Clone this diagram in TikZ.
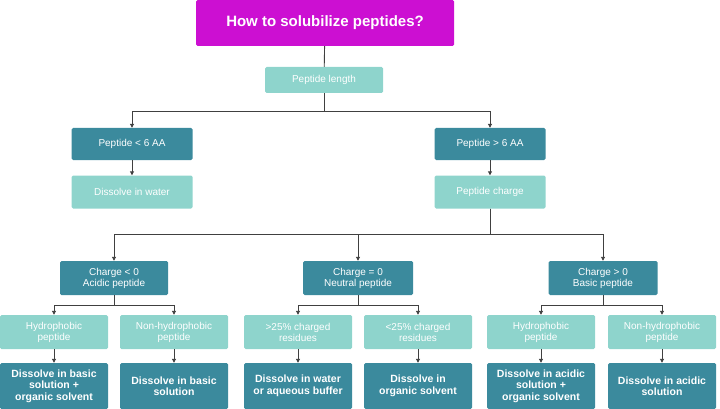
\documentclass[tikz,border=0pt]{standalone}
\usepackage{fontspec}
\setmainfont{Liberation Sans}
\usetikzlibrary{arrows.meta}
\definecolor{mag}{HTML}{CC0FD2}
\definecolor{lt}{HTML}{8ED4CC}
\definecolor{dk}{HTML}{3B8A9D}
\begin{document}
\begin{tikzpicture}[x=1pt,y=-1pt,
 box/.style={rounded corners=1.5pt,align=center,text=white,inner sep=0pt},
 light/.style={box,fill=lt,font=\fontsize{10}{11}\selectfont},
 dark/.style={box,fill=dk,font=\fontsize{10}{11}\selectfont},
 res/.style={box,fill=dk,font=\bfseries\fontsize{10.5}{11.5}\selectfont},
 ln/.style={draw=black!75,line width=0.9pt},
 ar/.style={ln,-{Triangle[length=4pt,width=4pt]}}]
\useasboundingbox (0,0) rectangle (720,409);
\node[box,fill=mag,font=\bfseries\fontsize{15}{17}\selectfont,minimum width=258pt,minimum height=46pt] (t) at (325,23) {How to solubilize peptides?};
\node[light,minimum width=118pt,minimum height=26pt] (len) at (324,80) {Peptide length};
\node[dark,minimum width=121pt,minimum height=32pt] (s6) at (132,144) {Peptide < 6 AA};
\node[light,minimum width=121pt,minimum height=33pt] (w) at (132,192) {Dissolve in water};
\node[dark,minimum width=111pt,minimum height=32pt] (g6) at (490,144) {Peptide > 6 AA};
\node[light,minimum width=111pt,minimum height=33pt] (pc) at (490,192) {Peptide charge};
\node[dark,minimum width=108pt,minimum height=34pt] (c1) at (114,278) {Charge < 0\\Acidic peptide};
\node[dark,minimum width=110pt,minimum height=34pt] (c2) at (358,278) {Charge = 0\\Neutral peptide};
\node[dark,minimum width=109pt,minimum height=34pt] (c3) at (603,278) {Charge > 0\\Basic peptide};
\foreach \n/\x/\a/\b in {
 a1/54/Hydrophobic/peptide, a2/174/Non-hydrophobic/peptide,
 a3/298/>25\% charged/residues, a4/418/<25\% charged/residues,
 a5/541/Hydrophobic/peptide, a6/662/Non-hydrophobic/peptide}
 \node[light,minimum width=108pt,minimum height=34pt] (\n) at (\x,332) {\a\\\b};
\node[res,minimum width=108pt,minimum height=46pt] (r1) at (54,386) {Dissolve in basic\\solution +\\organic solvent};
\node[res,minimum width=108pt,minimum height=46pt] (r2) at (174,386) {Dissolve in basic\\solution};
\node[res,minimum width=108pt,minimum height=46pt] (r3) at (298,386) {Dissolve in water\\or aqueous buffer};
\node[res,minimum width=108pt,minimum height=46pt] (r4) at (418,386) {Dissolve in\\organic solvent};
\node[res,minimum width=108pt,minimum height=46pt] (r5) at (541,386) {Dissolve in acidic\\solution +\\organic solvent};
\node[res,minimum width=108pt,minimum height=46pt] (r6) at (662,386) {Dissolve in acidic\\solution};
\draw[ln] (t) -- (len);
\draw[ar] (len.south) -- ++(0,18) -| (s6.north);
\draw[ar] (len.south) -- ++(0,18) -| (g6.north);
\draw[ar] (s6) -- (w);
\draw[ar] (g6) -- (pc);
\foreach \c in {c1,c2,c3} \draw[ar] (pc.south) -- ++(0,26) -| (\c.north);
\foreach \c/\l/\r in {c1/a1/a2,c2/a3/a4,c3/a5/a6}{
 \draw[ar] (\c.south) -- ++(0,10) -| (\l.north);
 \draw[ar] (\c.south) -- ++(0,10) -| (\r.north);}
\foreach \i in {1,...,6} \draw[ar] (a\i) -- (r\i);
\end{tikzpicture}
\end{document}
